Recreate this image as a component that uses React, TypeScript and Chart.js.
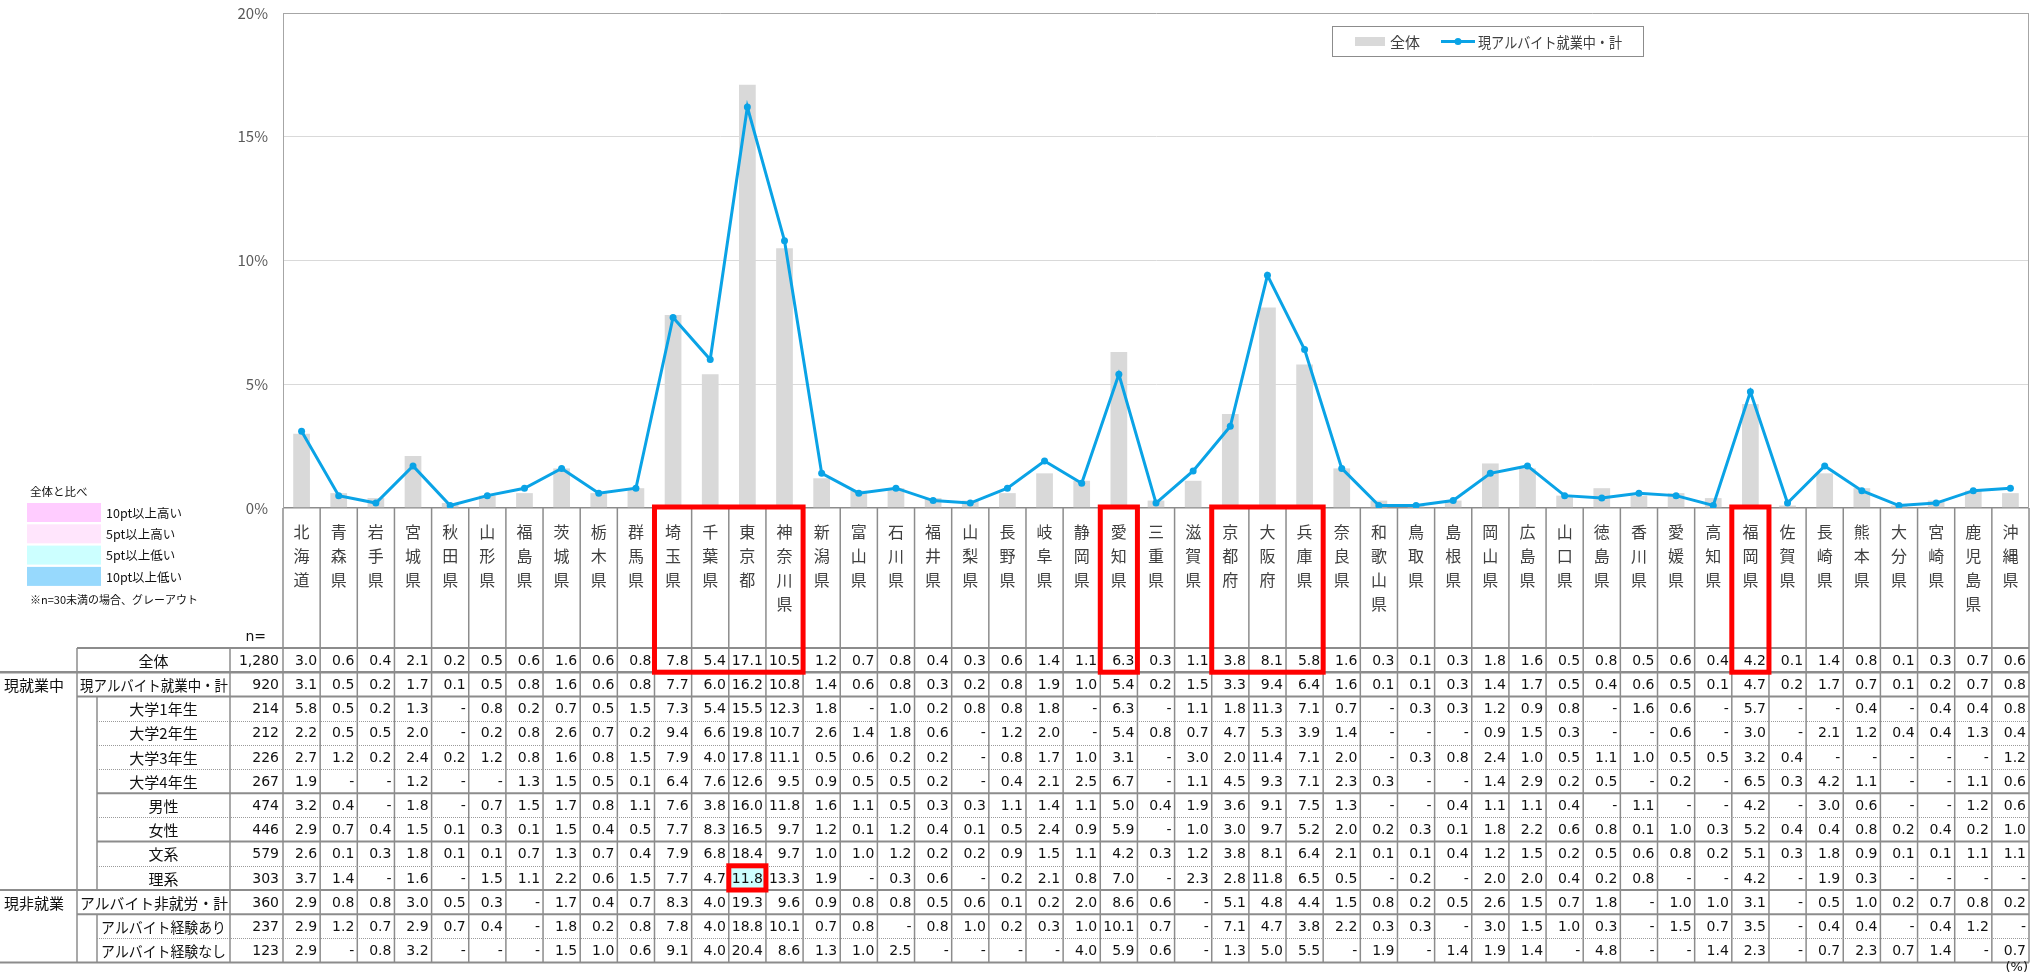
import React, { useEffect, useRef } from 'react';
import { Chart, registerables } from 'chart.js';

Chart.register(...registerables);

const N = null;

const prefectures = ['北海道','青森県','岩手県','宮城県','秋田県','山形県','福島県','茨城県','栃木県','群馬県','埼玉県','千葉県','東京都','神奈川県','新潟県','富山県','石川県','福井県','山梨県','長野県','岐阜県','静岡県','愛知県','三重県','滋賀県','京都府','大阪府','兵庫県','奈良県','和歌山県','鳥取県','島根県','岡山県','広島県','山口県','徳島県','香川県','愛媛県','高知県','福岡県','佐賀県','長崎県','熊本県','大分県','宮崎県','鹿児島県','沖縄県'];

const yTicks = [0, 5, 10, 15, 20];

const rowLabels = ['全体','現アルバイト就業中・計','大学1年生','大学2年生','大学3年生','大学4年生','男性','女性','文系','理系','アルバイト非就労・計','アルバイト経験あり','アルバイト経験なし'];
const groupLabels = [{ row: 1, text: '現就業中' }, { row: 10, text: '現非就業' }];
const nValues = [1280, 920, 214, 212, 226, 267, 474, 446, 579, 303, 360, 237, 123];

const overall = [3.0,0.6,0.4,2.1,0.2,0.5,0.6,1.6,0.6,0.8, 7.8,5.4,17.1,10.5, 1.2,0.7,0.8,0.4,0.3,0.6,1.4,1.1, 6.3,0.3,1.1, 3.8,8.1,5.8, 1.6,0.3,0.1,0.3,1.8,1.6,0.5,0.8,0.5,0.6,0.4, 4.2, 0.1,1.4,0.8,0.1,0.3,0.7,0.6];
const currentWorking = [3.1,0.5,0.2,1.7,0.1,0.5,0.8,1.6,0.6,0.8, 7.7,6.0,16.2,10.8, 1.4,0.6,0.8,0.3,0.2,0.8,1.9,1.0, 5.4,0.2,1.5, 3.3,9.4,6.4, 1.6,0.1,0.1,0.3,1.4,1.7,0.5,0.4,0.6,0.5,0.1, 4.7, 0.2,1.7,0.7,0.1,0.2,0.7,0.8];
const year1 = [5.8,0.5,0.2,1.3,N,0.8,0.2,0.7,0.5,1.5, 7.3,5.4,15.5,12.3, 1.8,N,1.0,0.2,0.8,0.8,1.8,N, 6.3,N,1.1, 1.8,11.3,7.1, 0.7,N,0.3,0.3,1.2,0.9,0.8,N,1.6,0.6,N, 5.7, N,N,0.4,N,0.4,0.4,0.8];
const year2 = [2.2,0.5,0.5,2.0,N,0.2,0.8,2.6,0.7,0.2, 9.4,6.6,19.8,10.7, 2.6,1.4,1.8,0.6,N,1.2,2.0,N, 5.4,0.8,0.7, 4.7,5.3,3.9, 1.4,N,N,N,0.9,1.5,0.3,N,N,0.6,N, 3.0, N,2.1,1.2,0.4,0.4,1.3,0.4];
const year3 = [2.7,1.2,0.2,2.4,0.2,1.2,0.8,1.6,0.8,1.5, 7.9,4.0,17.8,11.1, 0.5,0.6,0.2,0.2,N,0.8,1.7,1.0, 3.1,N,3.0, 2.0,11.4,7.1, 2.0,N,0.3,0.8,2.4,1.0,0.5,1.1,1.0,0.5,0.5, 3.2, 0.4,N,N,N,N,N,1.2];
const year4 = [1.9,N,N,1.2,N,N,1.3,1.5,0.5,0.1, 6.4,7.6,12.6,9.5, 0.9,0.5,0.5,0.2,N,0.4,2.1,2.5, 6.7,N,1.1, 4.5,9.3,7.1, 2.3,0.3,N,N,1.4,2.9,0.2,0.5,N,0.2,N, 6.5, 0.3,4.2,1.1,N,N,1.1,0.6];
const male = [3.2,0.4,N,1.8,N,0.7,1.5,1.7,0.8,1.1, 7.6,3.8,16.0,11.8, 1.6,1.1,0.5,0.3,0.3,1.1,1.4,1.1, 5.0,0.4,1.9, 3.6,9.1,7.5, 1.3,N,N,0.4,1.1,1.1,0.4,N,1.1,N,N, 4.2, N,3.0,0.6,N,N,1.2,0.6];
const female = [2.9,0.7,0.4,1.5,0.1,0.3,0.1,1.5,0.4,0.5, 7.7,8.3,16.5,9.7, 1.2,0.1,1.2,0.4,0.1,0.5,2.4,0.9, 5.9,N,1.0, 3.0,9.7,5.2, 2.0,0.2,0.3,0.1,1.8,2.2,0.6,0.8,0.1,1.0,0.3, 5.2, 0.4,0.4,0.8,0.2,0.4,0.2,1.0];
const humanities = [2.6,0.1,0.3,1.8,0.1,0.1,0.7,1.3,0.7,0.4, 7.9,6.8,18.4,9.7, 1.0,1.0,1.2,0.2,0.2,0.9,1.5,1.1, 4.2,0.3,1.2, 3.8,8.1,6.4, 2.1,0.1,0.1,0.4,1.2,1.5,0.2,0.5,0.6,0.8,0.2, 5.1, 0.3,1.8,0.9,0.1,0.1,1.1,1.1];
const science = [3.7,1.4,N,1.6,N,1.5,1.1,2.2,0.6,1.5, 7.7,4.7,11.8,13.3, 1.9,N,0.3,0.6,N,0.2,2.1,0.8, 7.0,N,2.3, 2.8,11.8,6.5, 0.5,N,0.2,N,2.0,2.0,0.4,0.2,0.8,N,N, 4.2, N,1.9,0.3,N,N,N,N];
const notWorking = [2.9,0.8,0.8,3.0,0.5,0.3,N,1.7,0.4,0.7, 8.3,4.0,19.3,9.6, 0.9,0.8,0.8,0.5,0.6,0.1,0.2,2.0, 8.6,0.6,N, 5.1,4.8,4.4, 1.5,0.8,0.2,0.5,2.6,1.5,0.7,1.8,N,1.0,1.0, 3.1, N,0.5,1.0,0.2,0.7,0.8,0.2];
const expYes = [2.9,1.2,0.7,2.9,0.7,0.4,N,1.8,0.2,0.8, 7.8,4.0,18.8,10.1, 0.7,0.8,N,0.8,1.0,0.2,0.3,1.0, 10.1,0.7,N, 7.1,4.7,3.8, 2.2,0.3,0.3,N,3.0,1.5,1.0,0.3,N,1.5,0.7, 3.5, N,0.4,0.4,N,0.4,1.2,N];
const expNo = [2.9,N,0.8,3.2,N,N,N,1.5,1.0,0.6, 9.1,4.0,20.4,8.6, 1.3,1.0,2.5,N,N,N,N,4.0, 5.9,0.6,N, 1.3,5.0,5.5, N,1.9,N,1.4,1.9,1.4,N,4.8,N,N,1.4, 2.3, N,0.7,2.3,0.7,1.4,N,0.7];

const tableRows = [overall, currentWorking, year1, year2, year3, year4, male, female, humanities, science, notWorking, expYes, expNo];

// emphasis frames (column index ranges) and one emphasised cell
const frameGroups = [[10, 13], [22, 22], [25, 27], [39, 39]];
const frameCells = [{ row: 9, col: 12 }];

const legendScale = [
  { color: '#ffccff', text: '10pt以上高い' },
  { color: '#ffe5fc', text: '5pt以上高い' },
  { color: '#ccffff', text: '5pt以上低い' },
  { color: '#97d9fd', text: '10pt以上低い' },
];

const FONT_JP = '"Noto Sans CJK JP", "Noto Sans", sans-serif';
const FONT_NUM = '"DejaVu Sans", "Noto Sans", sans-serif';
const LINE_COLOR = '#0aa3e6';
const BAR_COLOR = '#d9d9d9';

function fmt(v: number | null) {
  return v === null ? '-' : v.toFixed(1);
}

function cellFill(v: number | null, base: number | null) {
  if (v === null || base === null) return null;
  const d = Math.round((v - base) * 10) / 10;
  if (d >= 10) return legendScale[0].color;
  if (d >= 5) return legendScale[1].color;
  if (d <= -10) return legendScale[3].color;
  if (d <= -5) return legendScale[2].color;
  return null;
}

const tablePlugin = {
  id: 'tablePlugin',
  afterDraw(chart: any) {
    const ctx: CanvasRenderingContext2D = chart.ctx;
    const area = chart.chartArea;
    const xs = chart.scales.x;
    const colW = xs.getPixelForValue(1) - xs.getPixelForValue(0);
    const x0 = xs.getPixelForValue(0) - colW / 2;
    const colLeft = (i: number) => x0 + i * colW;
    const labelTop = area.bottom;
    const top = xs.bottom;
    const rowH = 24.2;
    const nRows = tableRows.length;
    const rowY = (r: number) => top + r * rowH;
    const bottom = rowY(nRows);
    const xGroup = 77;
    const xIndent = 97;
    const xN = 230;
    const nCols = prefectures.length;
    const right = colLeft(nCols);

    ctx.save();

    // plot right border
    ctx.strokeStyle = '#a6a6a6';
    ctx.lineWidth = 1;
    ctx.beginPath();
    ctx.moveTo(Math.round(area.right) - 0.5, area.top);
    ctx.lineTo(Math.round(area.right) - 0.5, area.bottom);
    ctx.stroke();

    // cell fills
    for (let r = 1; r < nRows; r++) {
      for (let i = 0; i < nCols; i++) {
        const f = cellFill(tableRows[r][i], overall[i]);
        if (f) {
          ctx.fillStyle = f;
          ctx.fillRect(colLeft(i), rowY(r), colW, rowH);
        }
      }
    }

    // vertical lines
    ctx.strokeStyle = '#8c8c8c';
    ctx.lineWidth = 1.5;
    ctx.setLineDash([]);
    const vline = (x: number, y1: number, y2: number) => {
      ctx.beginPath();
      ctx.moveTo(x, y1);
      ctx.lineTo(x, y2);
      ctx.stroke();
    };
    for (let i = 0; i <= nCols; i++) vline(colLeft(i), labelTop, bottom);
    vline(xN, top, bottom);
    vline(xGroup, top, bottom);
    vline(xIndent, rowY(2), rowY(10));
    vline(xIndent, rowY(11), rowY(13));

    // horizontal lines
    const hl = [
      { r: 0, from: xGroup, dot: false },
      { r: 1, from: 0, dot: false },
      { r: 2, from: xGroup, dot: false },
      { r: 3, from: xIndent, dot: true },
      { r: 4, from: xIndent, dot: true },
      { r: 5, from: xIndent, dot: true },
      { r: 6, from: xIndent, dot: false },
      { r: 7, from: xIndent, dot: true },
      { r: 8, from: xIndent, dot: false },
      { r: 9, from: xIndent, dot: true },
      { r: 10, from: 0, dot: false },
      { r: 11, from: xGroup, dot: false },
      { r: 12, from: xIndent, dot: true },
      { r: 13, from: 0, dot: false },
    ];
    for (const h of hl) {
      ctx.beginPath();
      if (h.dot) {
        ctx.setLineDash([1, 1]);
        ctx.lineWidth = 1;
        ctx.strokeStyle = '#9a9a9a';
        const y = Math.round(rowY(h.r)) + 0.5;
        ctx.moveTo(h.from, y);
        ctx.lineTo(right, y);
      } else {
        ctx.setLineDash([]);
        ctx.lineWidth = h.r === 1 ? 2.5 : 2;
        ctx.strokeStyle = '#8c8c8c';
        const y = rowY(h.r);
        ctx.moveTo(h.from, y);
        ctx.lineTo(right, y);
      }
      ctx.stroke();
    }
    ctx.setLineDash([]);

    // numbers
    ctx.fillStyle = '#111111';
    ctx.font = `14px ${FONT_NUM}`;
    ctx.textBaseline = 'middle';
    ctx.textAlign = 'right';
    for (let r = 0; r < nRows; r++) {
      const yc = rowY(r) + rowH / 2 + 1;
      for (let i = 0; i < nCols; i++) {
        ctx.fillText(fmt(tableRows[r][i]), colLeft(i) + colW - 3, yc);
      }
      ctx.fillText(nValues[r].toLocaleString('en-US'), colLeft(0) - 4, yc);
    }
    ctx.fillText('n=', 266, top - 11);
    ctx.font = `13px ${FONT_NUM}`;
    ctx.fillText('(%)', 2028, 968);

    // row labels
    ctx.font = `15px ${FONT_JP}`;
    for (let r = 0; r < nRows; r++) {
      const yc = rowY(r) + rowH / 2 + 1;
      const label = rowLabels[r];
      if (r === 1 || r === 10) {
        ctx.textAlign = 'left';
        ctx.fillText(label, xGroup + 3, yc, xN - xGroup - 5);
      } else if (r === 0) {
        ctx.textAlign = 'center';
        ctx.fillText(label, (xGroup + xN) / 2, yc);
      } else {
        ctx.textAlign = 'center';
        ctx.fillText(label, (xIndent + xN) / 2, yc, xN - xIndent - 8);
      }
    }
    ctx.textAlign = 'left';
    for (const g of groupLabels) {
      ctx.fillText(g.text, 4, rowY(g.row) + rowH / 2 + 1, xGroup - 6);
    }

    // emphasis frames
    ctx.strokeStyle = '#ff0000';
    ctx.lineWidth = 5;
    for (const [a, b] of frameGroups) {
      ctx.strokeRect(colLeft(a), labelTop - 1, (b - a + 1) * colW, rowY(1) - labelTop + 1);
    }
    for (const c of frameCells) {
      ctx.strokeRect(colLeft(c.col), rowY(c.row), colW, rowH);
    }

    // left legend (comparison colours)
    ctx.fillStyle = '#111111';
    ctx.textAlign = 'left';
    ctx.font = `11.5px ${FONT_JP}`;
    ctx.fillText('全体と比べ', 30, 492);
    legendScale.forEach((item, k) => {
      const y = 503 + k * 21.3;
      ctx.fillStyle = item.color;
      ctx.fillRect(27, y, 74, 19);
      ctx.fillStyle = '#111111';
      ctx.font = `12.5px ${FONT_JP}`;
      ctx.fillText(item.text, 106, y + 10);
    });
    ctx.font = `11px ${FONT_JP}`;
    ctx.fillText('※n=30未満の場合、グレーアウト', 30, 600);

    // top-right legend
    ctx.fillStyle = '#ffffff';
    ctx.fillRect(1332, 26, 311, 30);
    ctx.strokeStyle = '#8c8c8c';
    ctx.lineWidth = 1;
    ctx.strokeRect(1332.5, 26.5, 311, 30);
    ctx.fillStyle = BAR_COLOR;
    ctx.fillRect(1355, 37, 30, 9);
    ctx.fillStyle = '#404040';
    ctx.font = `15px ${FONT_JP}`;
    ctx.fillText('全体', 1390, 42);
    ctx.strokeStyle = LINE_COLOR;
    ctx.lineWidth = 3;
    ctx.beginPath();
    ctx.moveTo(1441, 41.5);
    ctx.lineTo(1475, 41.5);
    ctx.stroke();
    ctx.fillStyle = LINE_COLOR;
    ctx.beginPath();
    ctx.arc(1458, 41.5, 3.5, 0, Math.PI * 2);
    ctx.fill();
    ctx.fillStyle = '#404040';
    ctx.font = `15px ${FONT_JP}`;
    ctx.fillText('現アルバイト就業中・計', 1478, 42, 144);

    ctx.restore();
  },
};

export default function App() {
  const canvasRef = useRef<HTMLCanvasElement | null>(null);

  useEffect(() => {
    document.body.style.margin = '0';
    document.body.style.overflow = 'hidden';
    const canvas = canvasRef.current;
    if (!canvas) return;
    const chart = new Chart(canvas, {
      data: {
        labels: prefectures.map((p) => p.split('')),
        datasets: [
          {
            type: 'line',
            label: '現アルバイト就業中・計',
            data: currentWorking,
            borderColor: LINE_COLOR,
            backgroundColor: LINE_COLOR,
            borderWidth: 3,
            pointRadius: 3.5,
            pointBackgroundColor: LINE_COLOR,
            pointBorderWidth: 0,
            tension: 0,
            order: 0,
          },
          {
            type: 'bar',
            label: '全体',
            data: overall,
            backgroundColor: BAR_COLOR,
            barPercentage: 0.45,
            categoryPercentage: 1,
            order: 1,
          },
        ],
      } as any,
      options: {
        responsive: false,
        animation: false,
        devicePixelRatio: 1,
        layout: { padding: { left: 200, right: 2, top: 13, bottom: 330 } },
        plugins: { legend: { display: false }, tooltip: { enabled: false }, title: { display: false } },
        scales: {
          x: {
            type: 'category',
            offset: true,
            grid: { display: false },
            border: { display: false },
            ticks: {
              autoSkip: false,
              maxRotation: 0,
              minRotation: 0,
              padding: 4,
              color: '#404040',
              font: { family: FONT_JP, size: 16, lineHeight: 1.5 },
            },
            afterFit: (scale: any) => {
              scale.height = 140;
              scale.paddingTop = 0;
              scale.paddingBottom = 0;
              scale.paddingLeft = 0;
              scale.paddingRight = 0;
            },
          },
          y: {
            min: 0,
            max: 20,
            afterBuildTicks: (scale: any) => {
              scale.ticks = yTicks.map((v) => ({ value: v }));
            },
            grid: {
              drawTicks: false,
              color: (c: any) => (c.tick && c.tick.value === 0 ? '#8c8c8c' : c.tick && c.tick.value === 20 ? '#a6a6a6' : '#d9d9d9'),
              lineWidth: (c: any) => (c.tick && c.tick.value === 0 ? 1.5 : 1),
            },
            border: { display: true, color: '#a6a6a6', width: 1 },
            ticks: {
              padding: 15,
              color: '#595959',
              font: { family: FONT_JP, size: 15 },
              callback: (v: any) => `${v}%`,
            },
            afterFit: (scale: any) => {
              scale.width = 83;
              scale.paddingTop = 0;
              scale.paddingBottom = 0;
            },
          },
        },
      },
      plugins: [tablePlugin],
    });
    return () => chart.destroy();
  }, []);

  return <canvas ref={canvasRef} width={2033} height={978} style={{ display: 'block' }} />;
}
